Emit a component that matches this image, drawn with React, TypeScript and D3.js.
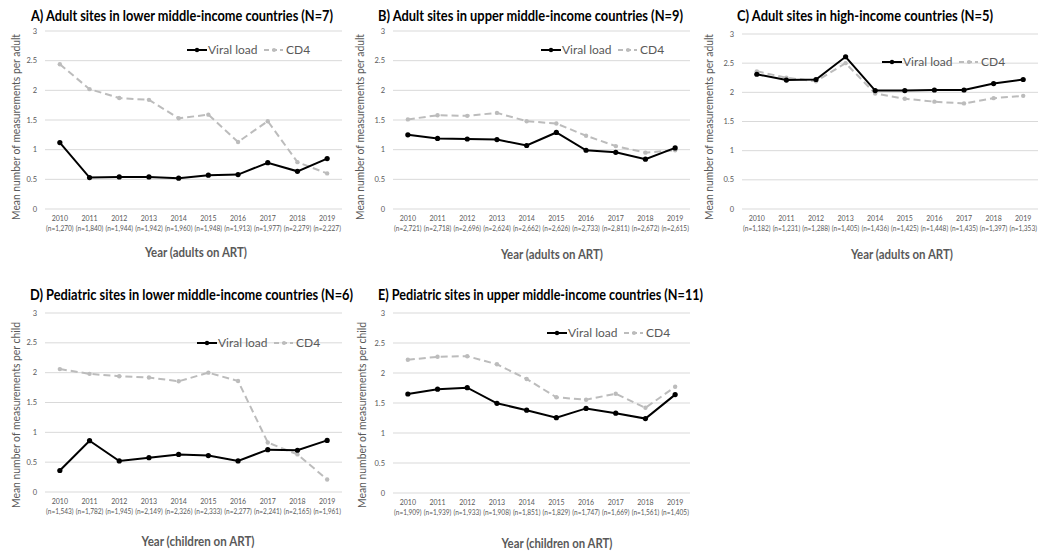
import React from "react";
import * as d3 from "d3";

const years = ["2010", "2011", "2012", "2013", "2014", "2015", "2016", "2017", "2018", "2019"];
const yTicks = [0, 0.5, 1, 1.5, 2, 2.5, 3];

const titleA = "A) Adult sites in lower middle-income countries (N=7)";
const nA = ["1,270", "1,840", "1,944", "1,942", "1,960", "1,948", "1,913", "1,977", "2,279", "2,227"];
const vlA = [1.12, 0.53, 0.54, 0.54, 0.52, 0.57, 0.58, 0.78, 0.635, 0.85];
const cd4A = [2.44, 2.02, 1.87, 1.84, 1.53, 1.59, 1.13, 1.48, 0.79, 0.6];

const titleB = "B) Adult sites in upper middle-income countries (N=9)";
const nB = ["2,721", "2,718", "2,696", "2,624", "2,662", "2,626", "2,733", "2,811", "2,672", "2,615"];
const vlB = [1.25, 1.19, 1.18, 1.17, 1.07, 1.29, 0.99, 0.955, 0.84, 1.03];
const cd4B = [1.51, 1.58, 1.57, 1.62, 1.48, 1.44, 1.235, 1.06, 0.95, 0.99];

const titleC = "C) Adult sites in high-income countries (N=5)";
const nC = ["1,182", "1,231", "1,288", "1,405", "1,436", "1,425", "1,448", "1,435", "1,397", "1,353"];
const vlC = [2.31, 2.21, 2.22, 2.61, 2.03, 2.03, 2.04, 2.04, 2.15, 2.22];
const cd4C = [2.36, 2.25, 2.19, 2.5, 1.98, 1.89, 1.84, 1.81, 1.9, 1.94];

const titleD = "D) Pediatric sites in lower middle-income countries (N=6)";
const nD = ["1,543", "1,782", "1,945", "2,149", "2,326", "2,333", "2,277", "2,241", "2,165", "1,961"];
const vlD = [0.36, 0.86, 0.52, 0.575, 0.63, 0.61, 0.52, 0.71, 0.7, 0.865];
const cd4D = [2.06, 1.98, 1.94, 1.92, 1.855, 2.0, 1.86, 0.83, 0.63, 0.21];

const titleE = "E) Pediatric sites in upper middle-income countries (N=11)";
const nE = ["1,909", "1,939", "1,933", "1,908", "1,851", "1,829", "1,747", "1,669", "1,561", "1,405"];
const vlE = [1.65, 1.73, 1.755, 1.495, 1.38, 1.255, 1.41, 1.33, 1.24, 1.64];
const cd4E = [2.22, 2.27, 2.28, 2.145, 1.9, 1.595, 1.555, 1.655, 1.42, 1.77];

const adultY = "Mean number of measurements per adult";
const childY = "Mean number of measurements per child";
const adultX = "Year (adults on ART)";
const childX = "Year (children on ART)";

type Layout = {
  gx0: number; gx1: number; gyTop: number; gyBot: number;
  titleX: number; titleY: number; titleW: number;
  legX: number; legY: number;
  xTitleX: number; xTitleY: number; xTitleW: number;
  yTitleX: number; yTitleC: number;
};

const FONT = "Lato, 'Open Sans', sans-serif";
const CD4C = "#bcbcbc";

function Panel(props: {
  title: string; n: string[]; vl: number[]; cd4: number[]; yTitle: string; xTitle: string; L: Layout;
}) {
  const { title, n, vl, cd4, yTitle, xTitle, L } = props;
  const x = d3.scalePoint<string>().domain(years).range([L.gx0, L.gx1]).padding(0.5);
  const y = d3.scaleLinear().domain([0, 3]).range([L.gyBot, L.gyTop]);
  const line = d3.line<number>().x((_, i) => x(years[i]) as number).y((d) => y(d));
  return (
    <g>
      <text x={L.titleX} y={L.titleY} fontFamily={FONT} fontWeight={700} fontSize={15}
        textLength={L.titleW} lengthAdjust="spacingAndGlyphs" fill="#000">{title}</text>
      {yTicks.map((t) => (
        <g key={t}>
          <line x1={L.gx0} x2={L.gx1} y1={y(t)} y2={y(t)} stroke="#d9d9d9" strokeWidth={1} />
          <text x={L.gx0 - 8} y={y(t) + 2.5} textAnchor="end" fontFamily={FONT} fontSize={7.5} fill="#595959">{t}</text>
        </g>
      ))}
      {years.map((yr, i) => (
        <g key={yr}>
          <text x={x(yr)} y={L.gyBot + 11.5} textAnchor="middle" fontFamily={FONT} fontSize={7} fill="#595959">{yr}</text>
          <text x={x(yr)} y={L.gyBot + 22} textAnchor="middle" fontFamily={FONT} fontSize={6.6} fill="#595959"
            textLength={27.5} lengthAdjust="spacingAndGlyphs">{`(n=${n[i]})`}</text>
        </g>
      ))}
      <text x={L.xTitleX} y={L.xTitleY} textAnchor="middle" fontFamily={FONT} fontWeight={700} fontSize={13.5}
        textLength={L.xTitleW} lengthAdjust="spacingAndGlyphs" fill="#595959">{xTitle}</text>
      <text transform={`translate(${L.yTitleX},${L.yTitleC}) rotate(-90)`} textAnchor="middle"
        dominantBaseline="middle" fontFamily={FONT} fontSize={12} textLength={186} lengthAdjust="spacingAndGlyphs"
        fill="#595959">{yTitle}</text>
      <path d={line(cd4) || ""} fill="none" stroke={CD4C} strokeWidth={2} strokeDasharray="7,4" />
      {cd4.map((v, i) => (
        <circle key={"c" + i} cx={x(years[i])} cy={y(v)} r={2.2} fill={CD4C} />
      ))}
      <path d={line(vl) || ""} fill="none" stroke="#000" strokeWidth={2} />
      {vl.map((v, i) => (
        <circle key={"v" + i} cx={x(years[i])} cy={y(v)} r={2.6} fill="#000" />
      ))}
      <g transform={`translate(${L.legX},${L.legY})`}>
        <line x1={0} x2={20} y1={0} y2={0} stroke="#000" strokeWidth={2} />
        <circle cx={10} cy={0} r={2.2} fill="#000" />
        <text x={21} y={4} fontFamily={FONT} fontSize={12} fill="#595959">Viral load</text>
        <line x1={77} x2={96} y1={0} y2={0} stroke={CD4C} strokeWidth={2} strokeDasharray="5,3" />
        <circle cx={87} cy={0} r={2} fill={CD4C} />
        <text x={99} y={4} fontFamily={FONT} fontSize={12} fill="#595959">CD4</text>
      </g>
    </g>
  );
}

const layoutA: Layout = { gx0: 45, gx1: 342, gyTop: 31, gyBot: 209, titleX: 31, titleY: 21, titleW: 302, legX: 187, legY: 50, xTitleX: 196, xTitleY: 257, xTitleW: 102, yTitleX: 17, yTitleC: 127 };
const layoutB: Layout = { gx0: 393, gx1: 690, gyTop: 31, gyBot: 209, titleX: 378, titleY: 21, titleW: 305, legX: 541, legY: 50, xTitleX: 552, xTitleY: 259, xTitleW: 102, yTitleX: 361, yTitleC: 127 };
const layoutC: Layout = { gx0: 742, gx1: 1038, gyTop: 34, gyBot: 209, titleX: 737, titleY: 21, titleW: 256, legX: 882, legY: 62, xTitleX: 902, xTitleY: 259, xTitleW: 102, yTitleX: 710, yTitleC: 127 };
const layoutD: Layout = { gx0: 45, gx1: 342, gyTop: 313, gyBot: 492, titleX: 30, titleY: 300, titleW: 323, legX: 197, legY: 343, xTitleX: 198, xTitleY: 546, xTitleW: 113, yTitleX: 17, yTitleC: 415 };
const layoutE: Layout = { gx0: 393, gx1: 690, gyTop: 313, gyBot: 493, titleX: 378, titleY: 300, titleW: 325, legX: 547, legY: 333, xTitleX: 557, xTitleY: 548, xTitleW: 111, yTitleX: 363, yTitleC: 415 };

export default function App() {
  return (
    <svg width={1050} height={558} style={{ position: "absolute", left: 0, top: 0, background: "#fff" }}>
      <rect width={1050} height={558} fill="#fff" />
      <Panel title={titleA} n={nA} vl={vlA} cd4={cd4A} yTitle={adultY} xTitle={adultX} L={layoutA} />
      <Panel title={titleB} n={nB} vl={vlB} cd4={cd4B} yTitle={adultY} xTitle={adultX} L={layoutB} />
      <Panel title={titleC} n={nC} vl={vlC} cd4={cd4C} yTitle={adultY} xTitle={adultX} L={layoutC} />
      <Panel title={titleD} n={nD} vl={vlD} cd4={cd4D} yTitle={childY} xTitle={childX} L={layoutD} />
      <Panel title={titleE} n={nE} vl={vlE} cd4={cd4E} yTitle={childY} xTitle={childX} L={layoutE} />
    </svg>
  );
}
